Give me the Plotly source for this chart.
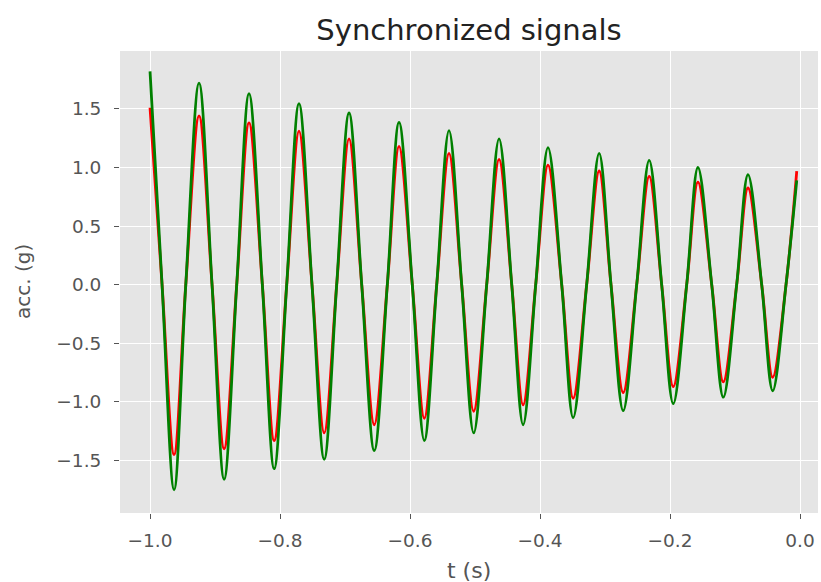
import plotly.graph_objects as go

# Times (s) of extrema and zero crossings
t = [-1.000, -0.9815, -0.963, -0.945, -0.9246, -0.9046, -0.886, -0.8666, -0.8477,
     -0.8272, -0.809, -0.7897, -0.7708, -0.7508, -0.732, -0.7128, -0.6938,
     -0.6743, -0.655, -0.6349, -0.6169, -0.5965, -0.578, -0.5589, -0.540,
     -0.5205, -0.502, -0.482, -0.463, -0.4435, -0.426, -0.4066, -0.3877,
     -0.3666, -0.349, -0.3282, -0.309, -0.2908, -0.272, -0.2512, -0.232,
     -0.2128, -0.195, -0.1743, -0.157, -0.1358, -0.118, -0.0974, -0.080,
     -0.0589, -0.042, -0.0215, -0.005]

red = [1.51, 0, -1.45, 0, 1.44, 0, -1.40, 0, 1.38, 0, -1.33, 0, 1.31,
       0, -1.265, 0, 1.245, 0, -1.195, 0, 1.18, 0, -1.14, 0, 1.12,
       0, -1.08, 0, 1.07, 0, -1.025, 0, 1.02, 0, -0.97, 0, 0.97,
       0, -0.92, 0, 0.925, 0, -0.87, 0, 0.875, 0, -0.83, 0, 0.825,
       0, -0.79, 0, 0.97]

green = [1.82, 0, -1.75, 0, 1.72, 0, -1.66, 0, 1.63, 0, -1.57, 0, 1.545,
         0, -1.49, 0, 1.465, 0, -1.415, 0, 1.385, 0, -1.33, 0, 1.315,
         0, -1.265, 0, 1.245, 0, -1.195, 0, 1.17, 0, -1.135, 0, 1.12,
         0, -1.075, 0, 1.06, 0, -1.015, 0, 1.0, 0, -0.96, 0, 0.94,
         0, -0.905, 0, 0.89]

x_ticks = [-1.0, -0.8, -0.6, -0.4, -0.2, 0.0]
x_tick_labels = ["\u22121.0", "\u22120.8", "\u22120.6", "\u22120.4", "\u22120.2", "0.0"]
y_ticks = [-1.5, -1.0, -0.5, 0.0, 0.5, 1.0, 1.5]
y_tick_labels = ["\u22121.5", "\u22121.0", "\u22120.5", "0.0", "0.5", "1.0", "1.5"]

FONT = "DejaVu Sans"
GRAY = "#555555"

fig = go.Figure()
fig.add_trace(go.Scatter(x=t, y=red, mode="lines",
                         line=dict(color="#ff0000", width=2.8, shape="spline", smoothing=1.0),
                         showlegend=False))
fig.add_trace(go.Scatter(x=t, y=green, mode="lines",
                         line=dict(color="#008000", width=2.8, shape="spline", smoothing=1.0),
                         showlegend=False))

fig.update_layout(
    width=821, height=582,
    margin=dict(l=120, r=3, t=51, b=69),
    paper_bgcolor="white",
    plot_bgcolor="#e5e5e5",
    font=dict(family=FONT, color=GRAY, size=18),
    title=dict(text="Synchronized signals", x=0.5, xref="paper", y=1 - 30 / 582,
               yref="container", xanchor="center", yanchor="middle",
               font=dict(family=FONT, size=29, color="#222222")),
    xaxis=dict(range=[-1.0462, 0.0277], tickvals=x_ticks, ticktext=x_tick_labels,
               showgrid=True, gridcolor="white", gridwidth=1.3, zeroline=False,
               ticks="outside", ticklen=5, tickwidth=1.3, tickcolor=GRAY,
               ticklabelstandoff=6,
               tickfont=dict(family=FONT, size=18.5, color=GRAY), showline=False),
    yaxis=dict(range=[-1.948, 1.994], tickvals=y_ticks, ticktext=y_tick_labels,
               showgrid=True, gridcolor="white", gridwidth=1.3, zeroline=False,
               ticks="outside", ticklen=5, tickwidth=1.3, tickcolor=GRAY,
               ticklabelstandoff=9,
               tickfont=dict(family=FONT, size=18.5, color=GRAY), showline=False),
    annotations=[
        dict(text="t (s)", xref="paper", yref="paper", x=0.5, y=(513 - 570) / 462,
             xanchor="center", yanchor="middle", showarrow=False,
             font=dict(family=FONT, size=22, color=GRAY)),
        dict(text="acc. (g)", xref="paper", yref="paper", x=(23 - 120) / 698, y=0.5,
             xanchor="center", yanchor="middle", showarrow=False, textangle=-90,
             font=dict(family=FONT, size=20, color=GRAY)),
    ],
)

fig.write_html("out.html")
